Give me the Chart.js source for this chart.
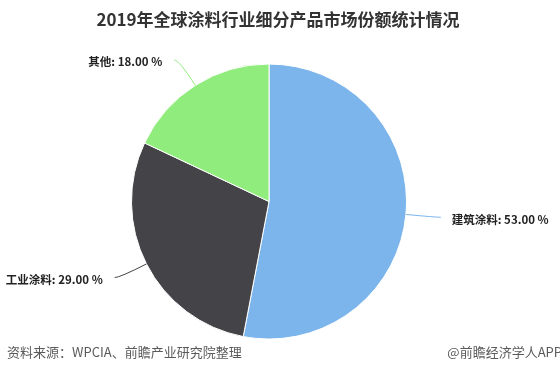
<!DOCTYPE html>
<html>
<head>
<meta charset="utf-8">
<script src="https://cdn.jsdelivr.net/npm/chart.js@4.4.0/dist/chart.umd.min.js"></script>
<style>
  html, body { margin: 0; padding: 0; background: #fff; }
  #wrap { width: 560px; height: 390px; }
</style>
</head>
<body>
<div id="wrap"><canvas id="myChart" width="560" height="390"></canvas></div>
<script>
const titleText = "2019年全球涂料行业细分产品市场份额统计情况";
const sourceText = "资料来源：WPCIA、前瞻产业研究院整理";
const creditText = "@前瞻经济学人APP";

const categories = ["建筑涂料", "工业涂料", "其他"];
const shares = [53.0, 29.0, 18.0];
const colors = ["#7cb5ec", "#434348", "#90ed7d"];

const cjkFont = '"Noto Sans CJK SC", "Noto Sans", sans-serif';

// titles + slice labels with leader lines
const textPlugin = {
  id: "textPlugin",
  afterDraw(chart) {
    const ctx = chart.ctx;
    ctx.save();

    ctx.fillStyle = "#333";
    ctx.font = "bold 17px " + cjkFont;
    ctx.textAlign = "center";
    ctx.textBaseline = "middle";
    ctx.fillText(titleText, 278, 20);

    ctx.fillStyle = "#5a5a5a";
    ctx.font = "13px " + cjkFont;
    ctx.textAlign = "left";
    ctx.fillText(sourceText, 7, 352);
    ctx.textAlign = "right";
    ctx.fillText(creditText, 562, 352);

    const meta = chart.getDatasetMeta(0);
    meta.data.forEach((arc, i) => {
      const p = arc.getProps(["x", "y", "startAngle", "endAngle", "outerRadius"], true);
      const mid = (p.startAngle + p.endAngle) / 2;
      const cos = Math.cos(mid), sin = Math.sin(mid);
      const ex = p.x + cos * p.outerRadius;
      const ey = p.y + sin * p.outerRadius;
      const ax = p.x + cos * (p.outerRadius + 30);
      const ay = p.y + sin * (p.outerRadius + 30);
      const right = cos >= 0;
      const lx = ax + (right ? 5 : -5);

      ctx.strokeStyle = colors[i];
      ctx.lineWidth = 1;
      ctx.beginPath();
      ctx.moveTo(ex, ey);
      ctx.quadraticCurveTo(ax, ay, lx, ay);
      ctx.stroke();

      ctx.fillStyle = "#222";
      ctx.font = "bold 11.5px " + cjkFont;
      ctx.textAlign = right ? "left" : "right";
      ctx.textBaseline = "middle";
      const label = categories[i] + ": " + shares[i].toFixed(2) + " %";
      ctx.fillText(label, lx + (right ? 11 : -12), ay + 2);
    });

    ctx.restore();
  }
};

new Chart(document.getElementById("myChart"), {
  type: "pie",
  data: {
    labels: categories,
    datasets: [
      {
        data: shares,
        backgroundColor: colors,
        borderColor: "#ffffff",
        borderWidth: 1,
      },
    ],
  },
  options: {
    responsive: false,
    animation: false,
    events: [],
    layout: {
      padding: { left: 131, right: 153, top: 63, bottom: 50 },
    },
    plugins: {
      legend: { display: false },
      title: { display: false },
      tooltip: { enabled: false },
    },
  },
  plugins: [textPlugin],
});
</script>
</body>
</html>
